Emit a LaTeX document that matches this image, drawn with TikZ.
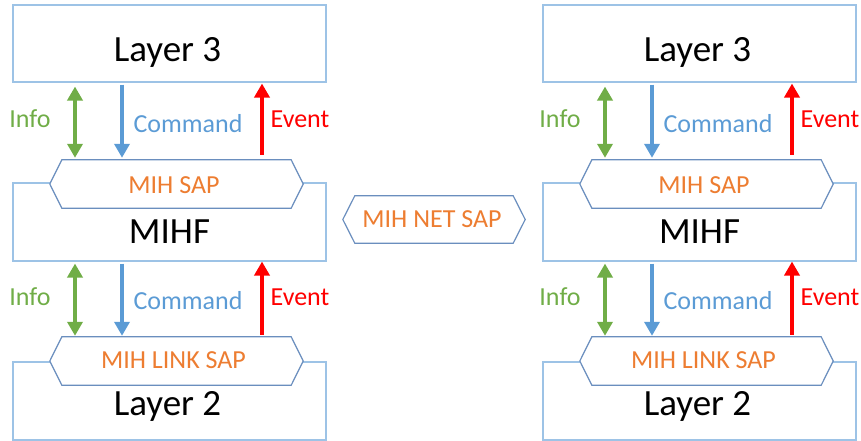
\documentclass[tikz,border=0pt]{standalone}
\usepackage{fontspec}
\setmainfont{Carlito}
\usetikzlibrary{arrows.meta}
\definecolor{boxc}{HTML}{9DC3E6}
\definecolor{hexc}{HTML}{6A8EBE}
\definecolor{infoc}{HTML}{70AD47}
\definecolor{cmdc}{HTML}{5B9BD5}
\definecolor{evc}{HTML}{FF0000}
\definecolor{sapc}{HTML}{ED7D31}
\tikzset{
  box/.style={draw=boxc, line width=1.1pt, minimum width=313pt, inner sep=0pt},
  saprect/.style={minimum height=48pt, inner sep=0pt},
  hex/.style={draw=hexc, line width=1.2pt, fill=white, line join=miter},
  big/.style={inner sep=0pt, anchor=base, font=\fontsize{37}{41}\selectfont},
  lab/.style={inner sep=0pt, anchor=base, font=\fontsize{26}{30}\selectfont},
  saptext/.style={lab, text=sapc},
  infoarrow/.style={draw=infoc, line width=4.5pt, {Triangle[width=15pt,length=14pt]}-{Triangle[width=15pt,length=14pt]}},
  cmdarrow/.style={draw=cmdc, line width=4.5pt, -{Triangle[width=15pt,length=14pt]}},
  evarrow/.style={draw=evc, line width=4.5pt, -{Triangle[width=15pt,length=14pt]}}
}
\newcommand\mihhex[1]{%
  \draw[hex] (#1.north west) -- (#1.north east) -- ([xshift=12pt]#1.east) -- (#1.south east) -- (#1.south west) -- ([xshift=-12pt]#1.west) -- cycle;}
\newcommand\mihcol[2]{%
\begin{scope}[xshift=#1pt]
  \node[box, minimum height=77pt] (#2L3) at (169.5,43.5) {};
  \node[box, minimum height=78pt] (#2MF) at (169.5,222) {};
  \node[box, minimum height=78pt] (#2L2) at (169.5,401) {};
  \node[saprect, minimum width=229pt] (#2sap) at (176.5,184) {};
  \mihhex{#2sap}
  \node[saprect, minimum width=229pt] (#2link) at (176.5,361) {};
  \mihhex{#2link}
  \node[big] (#2tL3) at (167.5,62) {Layer 3};
  \node[big] (#2tMF) at (169.5,243) {MIHF};
  \node[big] (#2tL2) at (167.5,415) {Layer 2};
  \node[saptext] (#2tsap) at (174,193) {MIH SAP};
  \node[saptext] (#2tlink) at (173.5,368) {MIH LINK SAP};
  % upper arrows
  \draw[infoarrow, shorten <=4pt, shorten >=2pt] (#2L3.south -| 75,0) -- (#2sap.north -| 75,0);
  \draw[cmdarrow, shorten <=2pt, shorten >=2pt] (#2L3.south -| 122,0) -- (#2sap.north -| 122,0);
  \draw[evarrow, shorten <=5pt, shorten >=1pt] (#2sap.north -| 262,0) -- (#2L3.south -| 262,0);
  \node[lab, text=infoc] (#2li1) at (30,128) {Info};
  \node[lab, text=cmdc] (#2lc1) at (188,132) {Command};
  \node[lab, text=evc] (#2le1) at (300,128) {Event};
  % lower arrows
  \draw[infoarrow, shorten <=2pt, shorten >=1pt] (#2MF.south -| 75,0) -- (#2link.north -| 75,0);
  \draw[cmdarrow, shorten <=2pt, shorten >=1pt] (#2MF.south -| 122,0) -- (#2link.north -| 122,0);
  \draw[evarrow, shorten <=2pt, shorten >=0pt] (#2link.north -| 262,0) -- (#2MF.south -| 262,0);
  \node[lab, text=infoc] (#2li2) at (30,305) {Info};
  \node[lab, text=cmdc] (#2lc2) at (188,309) {Command};
  \node[lab, text=evc] (#2le2) at (300,305) {Event};
\end{scope}}
\begin{document}
\begin{tikzpicture}[x=1pt, y=-1pt]
  \useasboundingbox (0,0) rectangle (861,441);
  \mihcol{0}{a}
  \mihcol{530}{b}
  \node[saprect, minimum width=158pt, minimum height=47pt] (net) at (434,219.5) {};
  \mihhex{net}
  \node[saptext] (tnet) at (432,227) {MIH NET SAP};
\end{tikzpicture}
\end{document}
